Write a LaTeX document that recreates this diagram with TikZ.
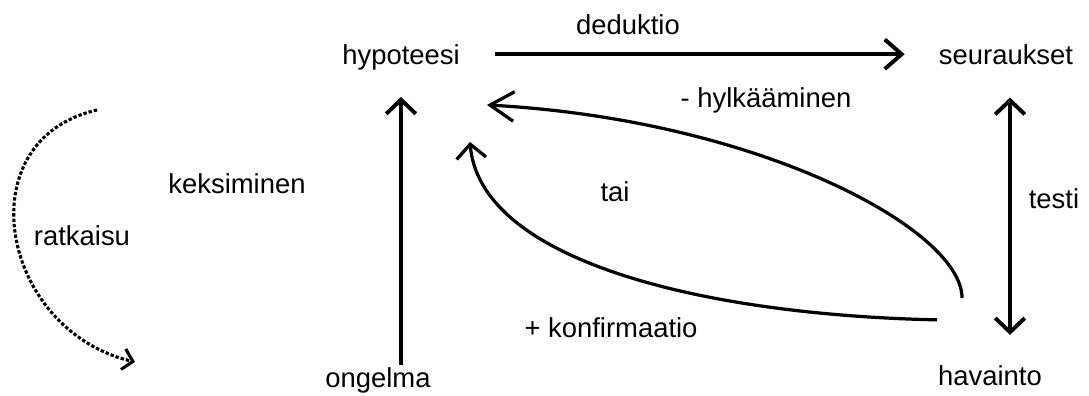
\documentclass[tikz,border=0pt]{standalone}
\usepackage{fontspec}
\setmainfont{Liberation Sans}
\usetikzlibrary{arrows.meta,positioning}

\begin{document}
\begin{tikzpicture}[
    x=0.025cm, y=-0.025cm,
    >={Straight Barb[length=10pt,width=21pt]},
    term/.style={font=\fontsize{19.5}{23}\selectfont, inner sep=0pt, anchor=base},
    arr/.style={->, line width=2.8pt},
    curv/.style={->, line width=2.3pt},
    dotarc/.style={-{Straight Barb[length=7pt,width=15pt]}, line width=2.2pt, dash pattern=on 2.4pt off 1.4pt},
]
    \useasboundingbox (0,0) rectangle (1089,395);
    % Terms
    \node[term] (hyp) at (401,64) {hypoteesi};
    \node[term] (seur) at (1006,64) {seuraukset};
    \node[term] (ong) at (378,387) {ongelma};
    \node[term] (hav) at (990,385) {havainto};
    % Labels
    \node[term] (ded) at (628,34) {deduktio};
    \node[term] (hylk) at (766,107) {- hylkääminen};
    \node[term] (keks) at (237,193) {keksiminen};
    \node[term] (tai) at (615,201) {tai};
    \node[term] (testi) at (1054,208) {testi};
    \node[term] (ratk) at (82,245) {ratkaisu};
    \node[term] (konf) at (611,337) {+ konfirmaatio};
    % Straight arrows
    \draw[arr, -{Straight Barb[length=12pt,width=21pt]}, shorten <=0.875cm, shorten >=0.85cm]
        (hyp.east |- seur.west) -- (seur.west);
    \draw[arr, shorten <=0.05cm, shorten >=0.675cm] (ong.north -| hyp.south) -- (hyp.south);
    \draw[arr, <->, shorten <=0.825cm, shorten >=0.75cm]
        ([xshift=0.1cm]seur.south) -- ([xshift=0.5cm]hav.north);
    % Curved arrows
    \coordinate (rejA) at ([shift={(-28,-67)}]hav.north);
    \coordinate (rejB) at ([shift={(27,35)}]hyp.south east);
    \draw[curv, -{Straight Barb[length=17pt,width=21pt]}] (rejA) .. controls +(0,-68) and +(273,15) .. (rejB);
    \coordinate (confA) at ([shift={(-53,-45)}]hav.north);
    \coordinate (confB) at ([shift={(69,72)}]hyp.south);
    \draw[curv] (confA) .. controls +(-237,-5) and +(10,118) .. (confB);
    % Solution arc
    \coordinate (solA) at (97,110);
    \coordinate (solB) at (135,362);
    \draw[dotarc] (solA) .. controls (-35,140) and (0,330) .. (solB);
\end{tikzpicture}
\end{document}
